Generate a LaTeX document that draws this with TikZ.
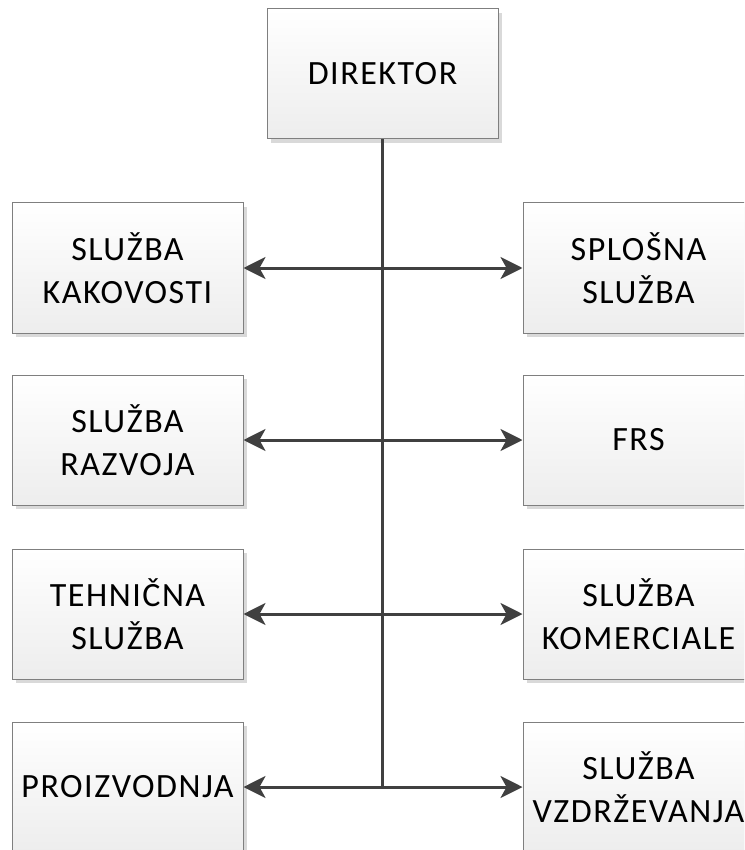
\documentclass[tikz,border=0pt]{standalone}
\usepackage{fontspec}
\setmainfont{Carlito}[LetterSpace=4.5]
\usetikzlibrary{arrows.meta,shadows}

\definecolor{edgegray}{HTML}{7F7F7F}
\definecolor{boxbottom}{HTML}{EDEDED}
\definecolor{shadowgray}{HTML}{D9D9D9}
\definecolor{linkgray}{HTML}{404040}

\tikzset{
  unitbox/.style={
    minimum width=231pt, minimum height=130pt, inner sep=0pt,
    draw=edgegray, line width=1pt,
    top color=white, bottom color=boxbottom,
    drop shadow={shadow xshift=4pt, shadow yshift=-4pt, fill=shadowgray, opacity=1},
    align=center, font=\fontsize{34}{43}\selectfont
  },
  link/.style={draw=linkgray, line width=3pt},
  twoway/.style={link, {Stealth[length=22pt,width=22pt,inset=6pt]}-{Stealth[length=22pt,width=22pt,inset=6pt]}}
}

\begin{document}
\begin{tikzpicture}[x=1pt,y=1pt]
  \useasboundingbox (0,0) rectangle (744,-850);
  \clip (0,0) rectangle (744,-850);

  % head of the organisation
  \node[unitbox] (dir) at (382.5,-74) {DIREKTOR};

  % left column
  \node[unitbox] (l1) at (127.5,-268) {SLUŽBA\\KAKOVOSTI};
  \node[unitbox] (l2) at (127.5,-440) {SLUŽBA\\RAZVOJA};
  \node[unitbox] (l3) at (127.5,-614) {TEHNIČNA\\SLUŽBA};
  \node[unitbox] (l4) at (127.5,-787) {PROIZVODNJA};

  % right column
  \node[unitbox] (r1) at (638.5,-268) {SPLOŠNA\\SLUŽBA};
  \node[unitbox] (r2) at (638.5,-440) {FRS};
  \node[unitbox] (r3) at (638.5,-614) {SLUŽBA\\KOMERCIALE};
  \node[unitbox] (r4) at (638.5,-787) {SLUŽBA\\VZDRŽEVANJA};

  % trunk line from the director down to the last row
  \coordinate (trunkend) at (dir.south |- l4.east);
  \draw[link] (dir.south) -- (trunkend);

  % branches to both columns
  \draw[twoway] (l1.east) -- (r1.west);
  \draw[twoway] (l2.east) -- (r2.west);
  \draw[twoway] (l3.east) -- (r3.west);
  \draw[twoway] (l4.east) -- (r4.west);
\end{tikzpicture}
\end{document}
